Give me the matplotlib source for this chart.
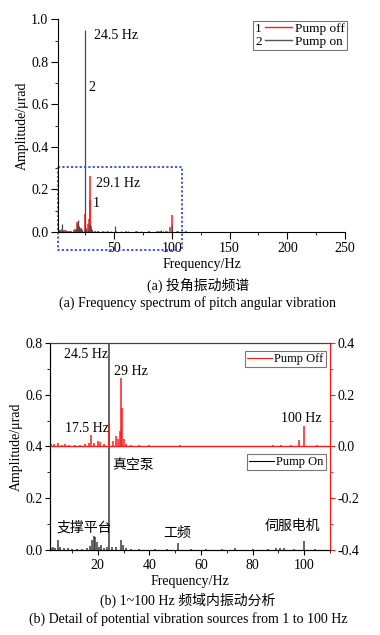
import matplotlib
matplotlib.use("Agg")
from matplotlib import pyplot as plt
from matplotlib.legend_handler import HandlerBase
from matplotlib.lines import Line2D
from matplotlib.text import Text
from matplotlib.ticker import MultipleLocator

plt.rcParams["font.family"] = ["Liberation Serif", "Noto Sans CJK SC"]
plt.rcParams["font.size"] = 10
plt.rcParams["xtick.direction"] = "out"
plt.rcParams["ytick.direction"] = "out"

# Data ─────────────────────────────────────────────────────────────────────────
# Pump off (red) - spectral peaks, Hz / urad
freq_off = [2, 3, 4.5, 6, 7.5, 9, 11, 13, 15, 16.5, 17.5, 18.5, 20, 21, 22.5, 24.5,
            26, 27, 28, 28.6, 29.1, 29.5, 30, 31, 33, 36, 40, 45, 52, 60, 70, 80,
            88, 91, 95, 98, 100, 105, 112]
amp_off = [0.008, 0.010, 0.015, 0.005, 0.010, 0.006, 0.004, 0.005, 0.008, 0.012, 0.045,
           0.015, 0.020, 0.018, 0.010, 0.085, 0.020, 0.040, 0.030, 0.060, 0.265, 0.150,
           0.030, 0.010, 0.005, 0.004, 0.004, 0.003, 0.004, 0.003, 0.003, 0.003,
           0.006, 0.007, 0.004, 0.025, 0.080, 0.004, 0.003]

# Pump on (black)
freq_on = [1.8, 2.5, 3.5, 4.6, 5.5, 7, 8.5, 10, 12, 14, 16, 17, 17.8, 18.4, 19, 19.6,
           20.5, 21.3, 22.5, 23.5, 24.5, 25.5, 27, 29, 29.6, 31, 33, 36, 42, 47, 51,
           56, 62, 68, 73, 80, 86, 89, 90.5, 92, 96, 100, 104]
amp_on = [0.008, 0.010, 0.008, 0.038, 0.010, 0.006, 0.008, 0.005, 0.004, 0.005, 0.008,
          0.015, 0.040, 0.055, 0.050, 0.030, 0.012, 0.020, 0.008, 0.010, 0.950, 0.012,
          0.010, 0.040, 0.020, 0.008, 0.005, 0.004, 0.004, 0.003, 0.028, 0.003, 0.003,
          0.003, 0.006, 0.004, 0.004, 0.006, 0.008, 0.006, 0.004, 0.035, 0.003]

RED = "#ff1a1a"
GRAY = "#555555"


class NumberedLine(HandlerBase):
    """Legend handle drawn as '<num> ———'."""

    def __init__(self, num):
        super().__init__()
        self.num = num

    def create_artists(self, legend, orig_handle, xdescent, ydescent, width, height,
                       fontsize, trans):
        y = height / 2 - ydescent
        t = Text(-xdescent, y, self.num, ha="left", va="center_baseline",
                 fontsize=legend.prop.get_size_in_points(), transform=trans,
                 family=["Liberation Serif"])
        ln = Line2D([-xdescent + 0.75 * fontsize, width - xdescent], [y, y],
                    color=orig_handle.get_color(), lw=1.0, transform=trans)
        return [t, ln]


fig = plt.figure(figsize=(3.8, 6.35), dpi=100)

# (a) Full spectrum ───────────────────────────────────────────────────────────
ax1 = fig.add_axes([0.153, 0.6346, 0.755, 0.335])
ax1.vlines(freq_off, 0, amp_off, color=RED, lw=1.1)
ax1.vlines(freq_on, 0, amp_on, color="#4a4a4a", lw=0.9)
ax1.set_xlim(1.5, 250)
ax1.set_ylim(0, 1.0)
ax1.xaxis.set_major_locator(MultipleLocator(50))
ax1.xaxis.set_minor_locator(MultipleLocator(25))
ax1.yaxis.set_major_locator(MultipleLocator(0.2))
ax1.yaxis.set_minor_locator(MultipleLocator(0.1))
ax1.yaxis.set_major_formatter(lambda v, p: f"{v:.1f}")
ax1.spines[["top", "right"]].set_visible(False)
ax1.tick_params(which="major", length=5, pad=2)
ax1.tick_params(which="minor", length=2.5, pad=2)
ax1.set_xlabel("Frequency/Hz", labelpad=2)
ax1.set_ylabel("Amplitude/μrad", labelpad=2)

ax1.text(32.5, 0.925, "24.5 Hz", va="center")
ax1.text(28, 0.68, "2", va="center")
ax1.text(34.3, 0.23, "29.1 Hz", va="center")
ax1.text(31.7, 0.136, "1", va="center")

# zoom window for panel (b)
ax1.plot([1.5, 108.5, 108.5, 1.5, 1.5], [0.305, 0.305, -0.085, -0.085, 0.305],
         ls=(0, (1.2, 1.2)), color="#3344ff", lw=1.3, clip_on=False)

h_off = Line2D([], [], color=RED)
h_on = Line2D([], [], color=GRAY)
leg1 = ax1.legend([h_off, h_on], ["Pump off", "Pump on"],
                  handler_map={h_off: NumberedLine("1"), h_on: NumberedLine("2")},
                  loc="upper right", bbox_to_anchor=(1.012, 1.0), fontsize=9.5,
                  handlelength=2.8, handletextpad=0.25, borderpad=0.15,
                  labelspacing=0.05, fancybox=False, edgecolor="#777777", framealpha=1,
                  borderaxespad=0.1)
leg1.get_frame().set_linewidth(0.8)

# (b) Detail 1-100 Hz ─────────────────────────────────────────────────────────
ax2 = fig.add_axes([0.1316, 0.1339, 0.737, 0.326])
ax3 = ax2.twinx()

ax2.vlines(freq_on, 0, amp_on, color="#3a3a3a", lw=1.1)
ax3.vlines(freq_off, 0, amp_off, color=RED, lw=1.1)
ax3.axhline(0, color=RED, lw=1.0)

ax2.set_xlim(1.5, 110)
ax2.set_ylim(0, 0.8)
ax3.set_ylim(-0.4, 0.4)
ax2.xaxis.set_major_locator(MultipleLocator(20))
ax2.xaxis.set_minor_locator(MultipleLocator(10))
for a in (ax2, ax3):
    a.yaxis.set_major_locator(MultipleLocator(0.2))
    a.yaxis.set_minor_locator(MultipleLocator(0.1))
    a.yaxis.set_major_formatter(lambda v, p: f"{v:.1f}")
    a.tick_params(which="major", length=3.5, pad=1.5)
    a.tick_params(which="minor", length=2, pad=1.5)
ax2.tick_params(axis="x", which="major", pad=3)
ax3.spines["right"].set_color(RED)
ax3.tick_params(axis="y", which="both", color=RED)
ax3.spines["top"].set_color("#444444")
ax2.set_xlabel("Frequency/Hz", labelpad=2)
ax2.set_ylabel("Amplitude/μrad", labelpad=2)

ax2.text(15.5, 0.754, "24.5 Hz", ha="center", va="center")
ax2.text(32.9, 0.688, "29 Hz", ha="center", va="center")
ax2.text(15.7, 0.471, "17.5 Hz", ha="center", va="center")
ax2.text(98.8, 0.51, "100 Hz", ha="center", va="center")
ax2.text(33.7, 0.328, "真空泵", ha="center", va="center")
ax2.text(14.7, 0.085, "支撑平台", ha="center", va="center")
ax2.text(50.7, 0.066, "工频", ha="center", va="center")
ax2.text(95.3, 0.089, "伺服电机", ha="center", va="center")

leg_on = ax2.legend([Line2D([], [], color="k", lw=0.8)], ["Pump On"], loc="upper right",
                    bbox_to_anchor=(0.984, 0.462), fontsize=9, handlelength=2.0,
                    handletextpad=0.2, borderpad=0.15, fancybox=False,
                    edgecolor="#777777", framealpha=1, borderaxespad=0)
leg_on.get_frame().set_linewidth(0.8)
leg_off = ax3.legend([Line2D([], [], color=RED, lw=0.8)], ["Pump Off"], loc="upper right",
                     bbox_to_anchor=(0.984, 0.96), fontsize=9, handlelength=2.0,
                     handletextpad=0.2, borderpad=0.15, fancybox=False,
                     edgecolor="#777777", framealpha=1, borderaxespad=0)
leg_off.get_frame().set_linewidth(0.8)

# Captions ────────────────────────────────────────────────────────────────────
fig.text(0.521, 1 - 285 / 635, "(a) 投角振动频谱", ha="center", va="center")
fig.text(0.521, 1 - 303 / 635, "(a) Frequency spectrum of pitch angular vibration",
         ha="center", va="center")
fig.text(0.495, 1 - 600 / 635, "(b) 1~100 Hz 频域内振动分析", ha="center", va="center")
fig.text(0.495, 1 - 619 / 635, "(b) Detail of potential vibration sources from 1 to 100 Hz",
         ha="center", va="center")

fig.savefig("out.png", dpi=100)
